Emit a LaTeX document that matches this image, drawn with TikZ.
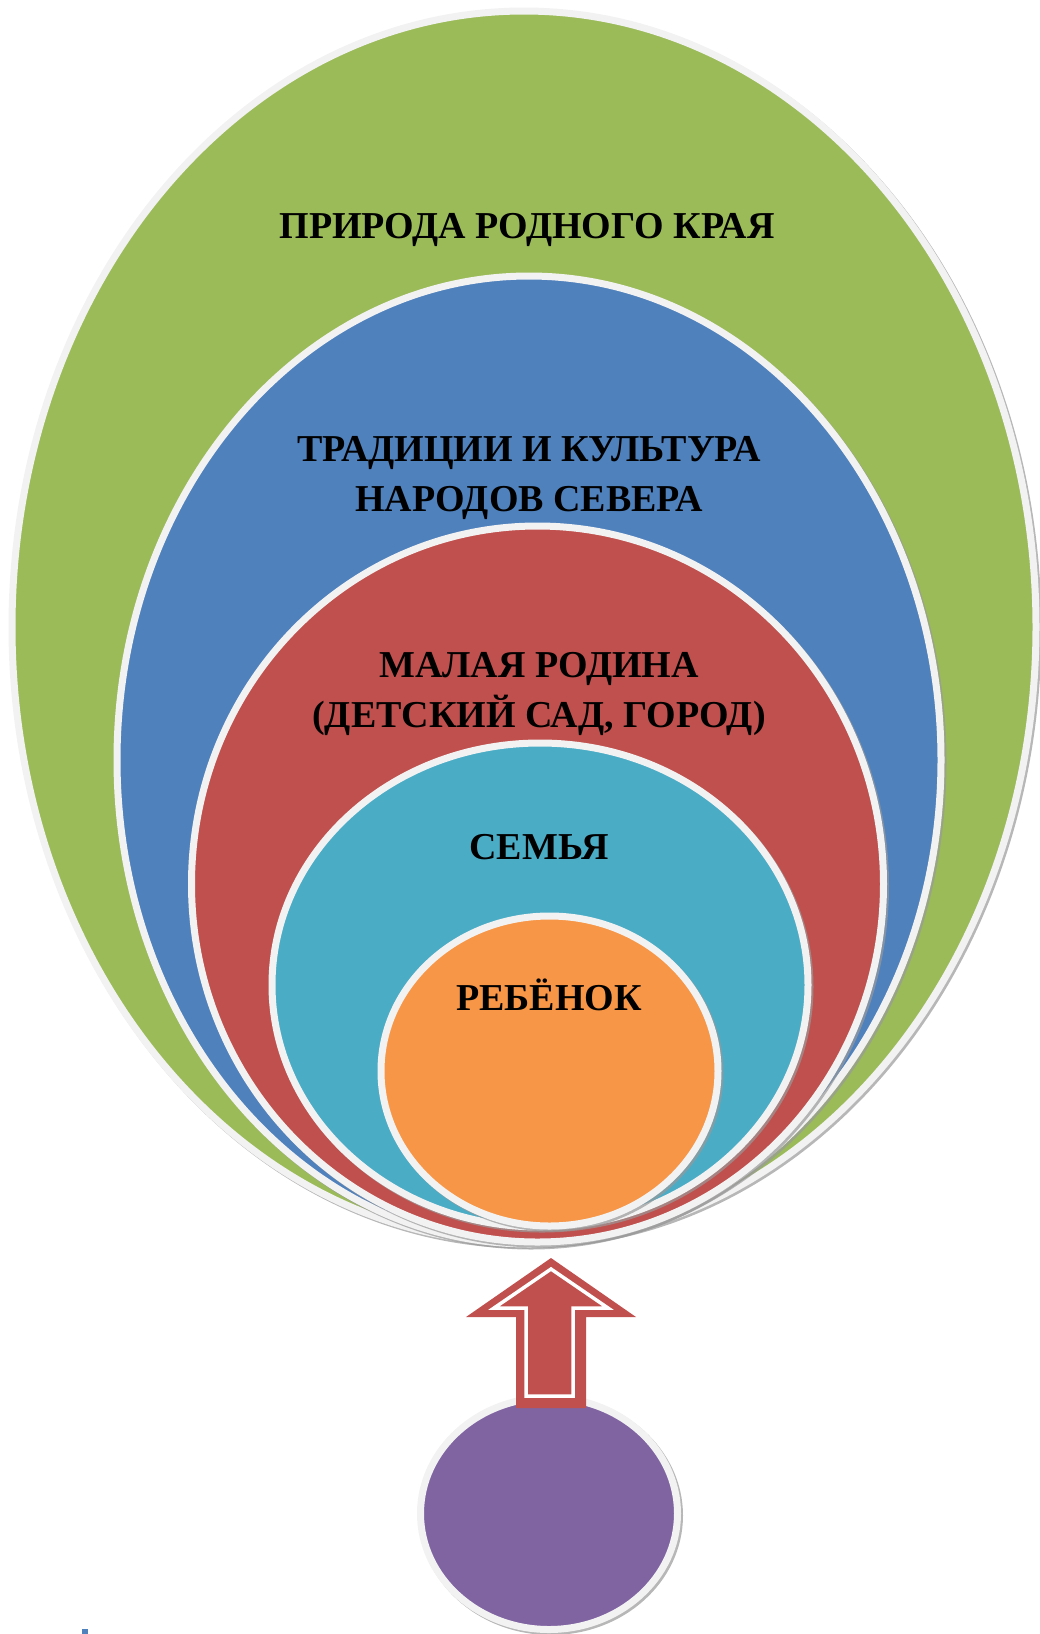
\documentclass[tikz,border=0pt]{standalone}
\usepackage{fontspec}
\setmainfont{Liberation Serif}
\usetikzlibrary{shapes.geometric}

\definecolor{natgreen}{HTML}{9BBB59}
\definecolor{tradblue}{HTML}{4F81BD}
\definecolor{homered}{HTML}{C0504D}
\definecolor{famcyan}{HTML}{4BACC6}
\definecolor{kidorange}{HTML}{F79646}
\definecolor{rootpurple}{HTML}{8064A2}
\definecolor{rimgray}{HTML}{F2F2F2}

\tikzset{
  ring/.style={ellipse, inner sep=0pt, draw=rimgray, line width=7pt,
    preaction={draw=black!40, draw opacity=0.7, line width=7pt, transform canvas={shift={(2pt,-2pt)}}}},
  caption/.style={font=\fontsize{38}{50}\selectfont\bfseries, align=center, anchor=base}
}

\begin{document}
\begin{tikzpicture}[x=1pt,y=-1pt]
        \useasboundingbox (0,0) rectangle (1040,1634);
        % rings, outer to inner
        \node[ring, fill=natgreen, minimum width=1024pt, minimum height=1232pt] (nature) at (524,627) {};
        \node[ring, fill=tradblue, minimum width=824pt, minimum height=968pt] (tradition) at (529,760) {};
        \node[ring, fill=homered, minimum width=692pt, minimum height=716pt] (homeland) at (537.5,884) {};
        \node[ring, fill=famcyan, minimum width=536pt, minimum height=484pt] (family) at (540,985) {};
        \node[ring, fill=kidorange, minimum width=337pt, minimum height=310pt] (child) at (549.5,1071) {};
        % bottom circle and arrow
        \node[ring, fill=rootpurple, minimum width=257pt, minimum height=232pt] (root) at (549,1513.5) {};
        \fill[homered] (551,1258) -- (636,1317) -- (586,1317) -- (586,1408) -- (516,1408) -- (516,1317) -- (466,1317) -- cycle;
        \draw[white, line width=3.5pt] (551,1269) -- (608,1308) -- (573,1308) -- (573,1396) -- (526,1396) -- (526,1308) -- (494,1308) -- cycle;
        % labels
        \node[caption] (naturetext) at (527,238) {ПРИРОДА РОДНОГО КРАЯ};
        \node[caption] (traditiontext) at (529,511.7) {ТРАДИЦИИ И КУЛЬТУРА\\НАРОДОВ СЕВЕРА};
        \node[caption] (hometext) at (539,727) {МАЛАЯ РОДИНА\\(ДЕТСКИЙ САД, ГОРОД)};
        \node[caption] (familytext) at (539,859) {СЕМЬЯ};
        \node[caption] (childtext) at (549,1010) {РЕБЁНОК};
        \fill[tradblue] (82,1629) rectangle (88,1634);
\end{tikzpicture}
\end{document}
